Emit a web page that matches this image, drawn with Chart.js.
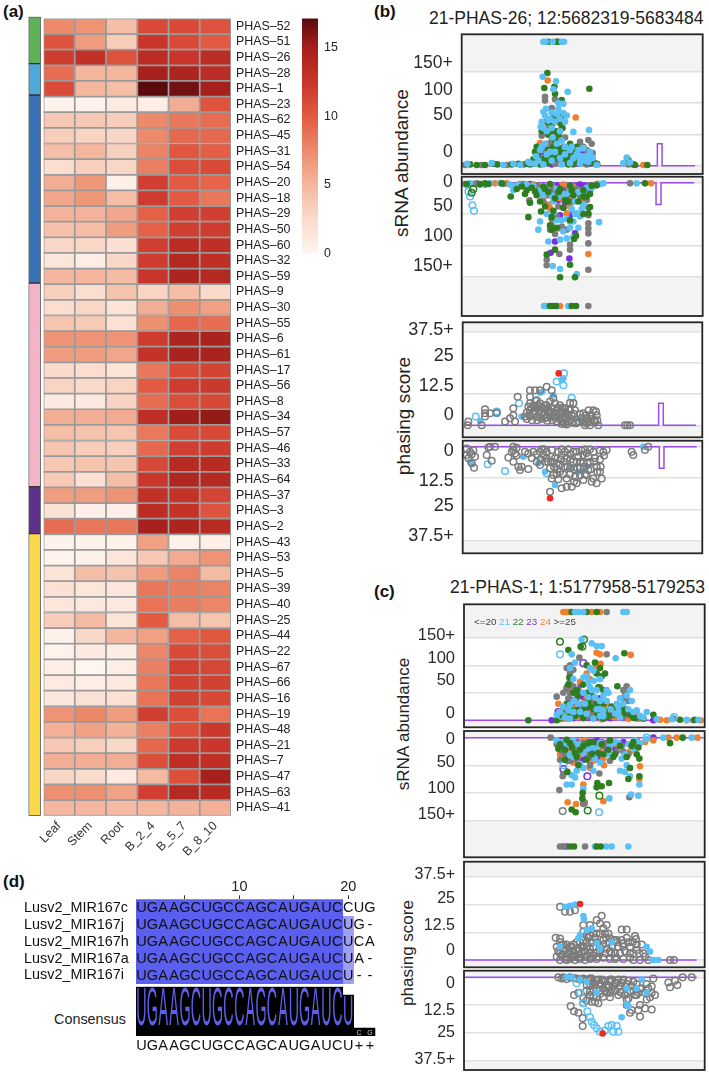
<!DOCTYPE html>
<html>
<head>
<meta charset="utf-8">
<title>PHAS figure</title>
<script src="https://cdn.jsdelivr.net/npm/chart.js@4/dist/chart.umd.min.js"></script>
<style>
  html, body { margin: 0; padding: 0; background: #fff; }
  body { position: relative; width: 709px; height: 1075px; overflow: hidden; font-family: 'Liberation Sans', Arial, sans-serif; color: #222; }
  canvas { position: absolute; filter: blur(0.35px); }
  .t { position: absolute; white-space: nowrap; line-height: 1; }
  .panel-tag { font-weight: bold; font-size: 17px; color: #111; }
  .rot { transform: translate(-50%, -50%) rotate(-90deg); }
</style>
</head>
<body>
<div class="t panel-tag" style="left:3px;top:3px">(a)</div>
<div class="t panel-tag" style="left:374px;top:3px">(b)</div>
<div class="t panel-tag" style="left:374px;top:583px">(c)</div>
<div class="t panel-tag" style="left:3px;top:873px">(d)</div>
<div class="t" style="left:429px;top:10px;font-size:17.5px">21-PHAS-26; 12:5682319-5683484</div>
<div class="t" style="left:450px;top:579px;font-size:17.5px">21-PHAS-1; 1:5177958-5179253</div>
<div class="t rot" style="left:401px;top:163px;font-size:19px">sRNA abundance</div>
<div class="t rot" style="left:403px;top:416px;font-size:19px">phasing score</div>
<div class="t rot" style="left:403px;top:724px;font-size:17px">sRNA abundance</div>
<div class="t rot" style="left:407px;top:953px;font-size:17px">phasing score</div>
<div class="t" style="left:54px;top:1012px;font-size:14.4px">Consensus</div>
<div class="t" style="left:474px;top:617px;font-size:9.8px;z-index:5;color:#444">&lt;=20 <span style="color:#5bc0f5">21</span> <span style="color:#2e7d32">22</span> <span style="color:#7b3fc4">23</span> <span style="color:#f07f3e">24</span> &gt;=25</div>
<script>
// ---------- (a) heatmap ----------
const heatRows = ['PHAS–52','PHAS–51','PHAS–26','PHAS–28','PHAS–1','PHAS–23','PHAS–62','PHAS–45','PHAS–31','PHAS–54','PHAS–20','PHAS–18','PHAS–29','PHAS–50','PHAS–60','PHAS–32','PHAS–59','PHAS–9','PHAS–30','PHAS–55','PHAS–6','PHAS–61','PHAS–17','PHAS–56','PHAS–8','PHAS–34','PHAS–57','PHAS–46','PHAS–33','PHAS–64','PHAS–37','PHAS–3','PHAS–2','PHAS–43','PHAS–53','PHAS–5','PHAS–39','PHAS–40','PHAS–25','PHAS–44','PHAS–22','PHAS–67','PHAS–66','PHAS–16','PHAS–19','PHAS–48','PHAS–21','PHAS–7','PHAS–47','PHAS–63','PHAS–41'];
const heatCols = ['Leaf','Stem','Root','B_2_4','B_5_7','B_8_10'];
const heatValues = [
 [7.5,7,4.5,11,11,10.5],[10.5,6.5,3.5,12.5,11,10],[12,13,10.5,13.5,12.5,13.5],[9,5,5,15,14.5,13.5],[11,5,4.5,17.3,16.5,15],
 [0.4,0.3,1,0.8,5.5,10.5],[3.8,3.8,3.5,7.5,8.5,9],[3.5,3,2.8,7.5,9.2,9.2],[4.5,5,3.2,7.8,10.3,9.8],[2.2,3.3,2.8,8,10.8,11],
 [5.5,6.8,0.6,11.8,10,9.5],[6,6.8,4.5,12,10,8.5],[5.2,5.2,6,9.7,11.8,11.8],[4.3,4.6,6.5,9.7,11.8,12],[2.8,2.8,2,11.8,13.5,13.2],
 [1.6,0.8,2.8,12,14,13.2],[5,5,4.7,12.5,14.5,14],[3.2,2.2,4.2,3,4.5,2.6],[2.2,2.8,1.8,5.5,7.2,6.3],[4,3.7,2,7.2,9.3,9],
 [7,7,7,12,14.5,14.7],[6.5,6.5,6,12.8,14.7,14.7],[2.5,2.2,1.7,8.5,11,11.5],[3,2.5,3,10,12,12.3],[1,1.2,3,9,10.8,11.2],
 [5.5,5.5,5.7,13.2,15.2,15.5],[4.5,4.2,4,8.5,11,11.2],[4,3.5,3.3,9.2,11.8,12],[3.8,4.2,4,11.3,13.7,13.8],[3.7,2,4.5,12.4,14.3,14],
 [6.5,6.5,7,13,12.8,11.5],[1.8,0.6,0.6,13.5,12.8,10.5],[9,8.5,8.5,15,14.5,13.7],[0.3,0.4,0.4,6.3,0.4,0.6],[0.3,0.5,1.5,3.8,5.7,7],
 [1.7,4.5,4.2,6.5,7.8,4.8],[2,1.6,1.4,8.5,8.2,7.8],[1.5,1.3,1.2,8.7,8.2,7.7],[3.5,4.8,1.7,10,4.6,4],[0.5,2.7,5,6.3,9.7,10.2],
 [0.4,1.2,0.8,7.7,11,10.8],[0.7,0.1,0.8,8,11.7,11.3],[1,0.7,1.2,8.5,11.6,11.6],[1.4,1.9,2,8.7,11.7,11.2],[7,7.6,6.5,11.8,10.7,8.7],
 [5.4,6.2,5.3,8,10.7,12.3],[3.8,3.3,2.7,9.3,12.2,12.4],[5.5,5.5,5.5,10.8,13.2,13.2],[2.8,2.4,1.2,4.8,10.7,15],[7.2,7.2,6.2,11.8,14,13.8],
 [5,5,4.8,5,5.2,5.4]
];
const groupSizes = [3, 2, 12, 13, 3, 18];
const groupColors = ['#5fb158', '#4ea8dc', '#3a72b8', '#f3b4c8', '#5e318c', '#f9d94a'];
const barTicks = [0, 5, 10, 15];
const barMax = 17.16;
const colorStops = [[0,'#fff6f1'],[2.5,'#fadbcb'],[5,'#f4b79e'],[7.5,'#ec8a6b'],[10,'#e35a42'],[12.5,'#c9352a'],[15,'#a6211c'],[17.16,'#5a0a0c']];

// ---------- (b) 21-PHAS-26 ----------
const b1Grey = [[285,1],[335,1],[410,1],[462,2],[500,8],[515,10],[530,6],[545,12],[560,8],[575,6],[595,5],[620,5],[640,8],[660,4],[675,3],[682,2],[525,110],[525,104],[555,106],[545,92],[565,80],[578,60],[520,52],[560,49],[515,48],[630,38],[655,41],[665,35],[580,30],[640,30],[600,15],[610,10],[520,25],[540,28],[575,22],[590,12],[775,2],[772,8],[505,4],[555,3],[610,2],[650,2],[530,35],[545,40],[570,45],[585,45],[600,25],[620,10],[635,15],[650,25],[668,20],[505,20],[530,60]];
const b1Blue = [[292,3],[365,4],[400,1],[430,3],[450,1],[475,6],[518,142],[558,135],[550,122],[593,118],[580,99],[565,91],[528,91],[520,86],[580,84],[545,85],[560,82],[515,70],[520,60],[512,62],[610,54],[657,57],[570,75],[590,80],[535,72],[605,30],[640,28],[660,22],[650,15],[630,10],[668,12],[655,6],[600,25],[585,18],[530,18],[555,22],[498,15],[510,25],[620,18],[570,12],[545,8],[495,3],[520,2],[575,2],[630,3],[680,1],[760,4],[770,13],[780,5],[520,198],[527,198],[548,198],[575,198],[582,198],[505,8],[525,35],[540,22],[560,35],[575,40],[585,30],[610,12],[625,25],[645,8],[662,15],[515,30],[530,55],[545,60],[555,70],[570,55],[525,80],[540,75],[565,100],[585,70],[635,15],[480,4],[600,4],[548,45]];
const b1Green = [[300,2],[320,1],[345,1],[370,3],[382,2],[425,2],[445,3],[470,3],[490,3],[510,2],[532,148],[523,124],[553,126],[658,123],[555,115],[575,105],[578,80],[562,72],[545,64],[530,70],[550,55],[570,68],[555,40],[525,12],[500,30],[495,22],[540,15],[565,28],[585,10],[600,35],[612,22],[625,8],[640,14],[655,4],[672,5],[535,4],[595,2],[795,1],[832,1],[775,9],[790,2],[610,3],[535,198],[558,198],[565,198],[490,10],[505,18],[520,8],[535,25],[550,30],[560,12],[570,20],[585,25],[595,15],[610,8],[620,30],[635,5],[650,10],[665,8],[680,3],[515,55],[535,50],[560,55],[575,60],[565,50],[550,80],[480,2]];
const b1Orange = [[533,136],[617,77],[535,49],[510,36],[540,32],[580,16],[550,18],[515,8],[605,10],[640,4],[820,1],[525,25],[555,30],[570,8],[590,5],[615,15],[650,8],[500,12],[535,12],[600,20]];
const b1Purple = [[540,57],[525,20],[560,14],[575,5],[620,3],[635,20],[600,8],[545,2],[510,5],[535,8],[555,12],[585,8],[610,5],[640,8],[660,3],[595,15],[570,25],[530,30]];
const b1Line = [[285,0],[862,0],[862,35],[876,35],[876,0],[975,0]];

const b2Grey = [[285,2],[310,2],[330,3],[400,2],[450,2],[500,4],[540,8],[600,4],[660,4],[478,28],[560,54],[545,68],[540,75],[555,82],[655,52],[655,65],[655,73],[655,81],[655,97],[655,139],[600,99],[600,107],[568,114],[530,123],[530,132],[580,40],[630,22],[590,25],[520,30],[780,1],[660,12],[620,10],[655,197],[295,3],[320,1],[345,3],[460,2],[475,6],[510,8],[535,20],[550,12],[565,38],[575,15],[595,10],[610,30],[640,12],[650,28],[670,5],[685,2],[545,58],[575,70],[590,75],[655,40]];
const b2Blue = [[300,1],[340,2],[420,3],[430,12],[445,3],[510,62],[505,75],[687,63],[535,94],[620,146],[570,138],[548,133],[570,91],[590,89],[610,87],[630,54],[620,49],[610,62],[600,72],[625,72],[615,30],[605,42],[530,50],[520,20],[550,30],[575,60],[640,35],[665,8],[690,2],[700,1],[800,1],[560,10],[600,15],[580,78],[522,197],[530,197],[560,197],[595,197],[290,4],[360,1],[390,1],[430,6],[470,3],[490,5],[510,12],[530,8],[545,20],[565,22],[585,18],[600,8],[625,15],[650,8],[675,5],[610,20],[635,42],[645,18],[590,58],[600,62],[615,50],[560,60],[550,48]];
const b2BlueOpen = [[295,14],[300,22],[307,36],[312,45]];
const b2GreenOpen = [[305,16],[310,10]];
const b2Green = [[290,2],[355,2],[470,12],[440,10],[422,22],[475,55],[513,46],[570,151],[615,151],[600,131],[612,90],[618,85],[530,115],[555,107],[660,39],[655,49],[545,75],[540,68],[580,40],[480,32],[500,20],[525,10],[555,25],[565,15],[595,30],[610,20],[640,12],[650,22],[680,4],[825,1],[600,5],[540,2],[540,197],[548,197],[558,197],[605,197],[618,197],[330,2],[345,1],[395,1],[455,6],[465,18],[485,8],[495,14],[510,30],[520,6],[535,15],[550,45],[570,10],[585,28],[605,12],[625,30],[640,22],[660,18],[665,5],[525,38],[545,55],[600,60],[640,50],[560,72]];
const b2Orange = [[375,1],[410,1],[655,114],[568,73],[590,49],[540,41],[520,22],[640,28],[560,12],[610,6],[843,1],[500,4],[580,3],[570,197],[460,3],[490,3],[515,12],[530,20],[550,8],[570,25],[600,28],[625,12],[650,8],[535,35],[600,38],[680,2]];
const b2Purple = [[570,52],[600,52],[598,121],[542,112],[555,94],[615,81],[565,28],[530,8],[590,12],[630,3],[480,2],[505,10],[540,15],[560,5],[575,8],[605,18],[620,5],[645,5],[550,22],[585,32]];
const b2Line = [[285,0],[858,0],[858,35],[873,35],[873,0],[972,0]];

const b3GreyOpen = [[295,1.5],[293,0],[335,0],[345,6.4],[345,4.8],[345,3.5],[360,4.8],[380,5],[405,1.5],[420,2.8],[430,6.8],[430,4],[435,1.5],[443,11.4],[465,3.5],[480,14],[495,14],[510,14],[480,11.4],[480,8.8],[480,6],[490,4.8],[500,6.8],[510,8.8],[520,6.8],[530,8],[530,15.4],[545,14],[550,10.8],[555,8.8],[540,5.5],[550,4],[560,6],[570,8],[575,4.8],[585,6.8],[595,4],[560,3.5],[520,4],[500,3.5],[480,3.5],[575,1.5],[585,0.8],[610,8.8],[615,6],[605,4],[640,4.8],[650,2.8],[660,4],[670,6],[680,4],[640,1.5],[645,0],[660,0],[675,1.5],[685,0],[765,0],[780,0],[772,0],[490,8],[500,10],[515,5],[525,3],[535,6],[545,7],[560,1.5],[570,2.5],[590,2.5],[600,6],[655,1.5],[665,2.5],[530,3],[510,3],[470,5],[475,7.5],[540,9.5],[600,9],[580,1],[470,2.5],[478,4],[486,2],[494,5.5],[502,2],[508,6],[516,2.5],[524,5.5],[532,1.8],[540,3.5],[548,2],[556,5],[564,7],[572,6],[580,3.5],[588,5],[596,6.5],[604,2.5],[612,4.5],[484,7],[494,7.5],[504,8],[514,7],[524,8],[534,7],[544,5],[554,3],[566,4.5],[576,7],[586,3.5],[596,1.5],[606,1],[618,0.8],[628,1.5],[636,3],[648,4],[656,6],[664,3.5],[672,2],[682,2],[678,5.5],[630,4.5],[650,0.8],[575,0.5],[590,0.3]];
const b3BlueOpen = [[317,3.5],[447,8.8],[380,5.5],[380,4.8],[582,20.7],[580,16],[605,11],[610,9],[497,9.7],[560,17.5]];
const b3Blue = [[330,1.7],[517,13.4],[550,12],[580,18.7],[575,18],[620,2.8],[455,3.5],[640,0.8],[510,13]];
const b3Red = [[566,20.7]];
const b3Line = [[285,0],[866,0],[866,8.8],[880,8.8],[880,0],[978,0]];

const b4GreyOpen = [[290,0.7],[290,3.3],[295,4.6],[310,1.3],[315,4],[305,6.6],[312,8.4],[350,3.3],[355,0.3],[375,0],[360,0],[365,5.6],[415,4.3],[430,0],[430,1.3],[440,0.4],[425,2],[435,2.7],[430,6],[465,2],[475,2.7],[455,8],[450,9.3],[475,8.9],[510,2],[520,3.3],[500,6],[510,7.3],[530,4.6],[545,1.3],[555,4.6],[540,8.6],[550,11.3],[560,6.6],[575,3.3],[590,4.6],[600,8.6],[590,12.7],[575,16.6],[590,16],[605,16],[620,14.6],[640,13.3],[650,11.3],[670,12.7],[680,14.6],[695,12.7],[690,10],[660,6],[670,2],[700,2],[710,1.3],[640,3.3],[620,6],[610,2],[630,8.6],[655,9.3],[540,18],[790,3.3],[785,2],[825,1.3],[835,0],[545,12.7],[530,2],[565,2],[585,2],[600,3],[620,2],[635,1.5],[650,2.5],[570,7],[585,8],[610,6],[625,4],[640,6.5],[655,4],[680,8],[675,4.5],[690,5],[500,3],[512,5],[522,1],[534,6],[544,4],[552,8],[562,9],[572,5],[582,6],[592,8],[602,5],[612,9],[622,8.5],[632,6],[642,8],[652,6.5],[662,9],[672,6],[682,10],[692,8],[702,3.5],[690,1.5],[660,1],[645,1],[595,1],[575,1],[600,11],[615,12],[630,11.5],[645,11],[665,14],[612,14],[565,13],[560,11],[570,10],[580,11],[548,6],[525,6],[515,1],[490,2],[485,4.5],[440,3.5],[445,8],[300,2],[305,3]];
const b4BlueOpen = [[353,7],[405,9.7],[530,10.6]];
const b4Blue = [[300,6],[305,6.6],[460,4],[505,6.6],[525,10],[555,15.3],[605,8.6],[625,10],[820,0],[650,8]];
const b4Red = [[540,20.6]];
const b4Line = [[285,0],[868,0],[868,8.6],[882,8.6],[882,0],[980,0]];

// ---------- (c) 21-PHAS-1 ----------
const c1Grey = [[560,43],[600,100],[590,95],[610,92],[628,114],[600,85],[590,60],[600,50],[620,40],[605,30],[585,22],[710,120],[765,50],[760,40],[775,35],[640,20],[680,15],[720,8],[760,6],[800,4],[910,3],[970,0],[700,3],[650,6],[600,8],[565,3],[690,60],[710,197],[575,10],[595,40],[610,62],[625,55],[600,72],[580,50],[640,8],[660,10],[672,30],[700,10],[735,22],[775,12],[600,20],[650,35],[755,18],[770,62],[760,55]];
const c1Blue = [[635,147],[665,140],[680,135],[695,135],[605,120],[737,113],[660,95],[670,90],[655,70],[660,60],[680,55],[710,55],[700,45],[715,50],[675,42],[690,35],[690,20],[740,30],[750,40],[745,25],[780,55],[770,45],[775,20],[790,15],[800,18],[830,15],[610,75],[640,50],[625,30],[580,25],[560,10],[610,15],[650,12],[700,8],[750,5],[820,5],[860,2],[905,2],[950,1],[985,1],[600,3],[670,3],[615,197],[625,197],[640,197],[760,197],[770,197],[570,15],[585,5],[595,18],[600,28],[612,35],[630,15],[645,30],[655,42],[665,55],[672,72],[680,20],[690,8],[700,18],[710,35],[722,20],[735,12],[745,15],[760,30],[785,35],[810,8],[650,80],[640,78],[690,75],[600,95],[615,105]];
const c1BlueOpen = [[570,120],[912,6],[575,8]];
const c1Green = [[475,0],[595,128],[632,134],[763,122],[650,100],[675,105],[690,95],[705,85],[695,80],[742,62],[595,65],[610,50],[640,65],[665,45],[685,60],[660,25],[620,18],[570,5],[600,12],[700,30],[730,10],[760,12],[790,5],[850,10],[820,3],[930,1],[975,1],[560,0],[640,4],[680,8],[605,197],[650,197],[680,197],[565,12],[580,5],[590,30],[600,22],[615,8],[625,45],[630,12],[645,20],[655,35],[670,20],[680,30],[690,12],[705,18],[715,8],[725,25],[740,15],[755,25],[765,20],[780,10],[795,4],[620,55],[598,78],[650,50],[700,55],[680,85]];
const c1GreenOpen = [[570,143],[642,147],[637,134],[590,10],[700,5]];
const c1Orange = [[680,123],[690,120],[782,119],[692,103],[630,70],[650,85],[605,55],[660,40],[665,15],[565,30],[710,30],[730,6],[805,3],[870,1],[890,0],[950,0],[992,0],[620,6],[585,10],[700,15],[580,197],[590,197],[597,197],[665,197],[690,197],[570,2],[590,3],[605,15],[615,28],[635,5],[650,40],[670,8],[685,25],[695,2],[715,15],[740,5],[760,18],[775,3],[800,10],[660,75],[675,95],[640,30]];
const c1Purple = [[545,0],[600,38],[632,65],[580,18],[690,40],[650,20],[720,4],[850,0],[770,8],[575,3],[610,4],[655,5],[700,12],[620,22],[665,32],[590,58],[640,42],[680,5]];
const c1PurpleOpen = [[640,104],[630,20],[565,15]];
const c1Line = [[285,0],[1000,0]];

const c2Grey = [[542,0],[568,95],[578,70],[580,66],[560,12],[575,25],[610,20],[640,10],[688,65],[778,108],[655,30],[700,15],[760,25],[800,5],[620,40],[640,120],[660,50],[570,197],[580,197],[645,197],[570,40],[585,30],[605,10],[625,28],[645,20],[675,15],[695,8],[715,8],[740,25],[755,15],[775,30],[795,12],[600,42],[660,35],[720,42]];
const c2GreyOpen = [[578,133],[642,118]];
const c2Blue = [[590,85],[605,85],[615,72],[620,60],[640,55],[690,45],[670,60],[640,92],[718,110],[783,103],[805,105],[808,85],[780,70],[770,50],[750,60],[765,30],[790,20],[610,5],[650,20],[680,20],[720,30],[745,10],[830,3],[965,0],[880,0],[560,5],[675,197],[708,197],[725,197],[775,197],[575,8],[590,12],[600,30],[610,35],[625,12],[640,28],[655,12],[665,18],[675,38],[690,10],[705,30],[720,15],[735,8],[755,38],[775,12],[795,5],[810,10],[630,48],[605,68],[765,62]];
const c2BlueOpen = [[687,135],[580,50],[830,0]];
const c2Green = [[592,62],[605,130],[617,135],[637,110],[638,100],[682,82],[680,90],[695,88],[717,82],[808,38],[780,55],[775,75],[808,70],[620,35],[565,20],[585,40],[640,15],[665,30],[700,30],[730,35],[785,15],[800,30],[900,10],[938,0],[600,10],[660,8],[600,197],[612,197],[680,197],[692,197],[570,12],[585,22],[605,18],[615,28],[630,22],[650,40],[670,8],[685,28],[695,12],[715,22],[735,30],[750,15],[770,35],[790,8],[805,18],[625,50],[655,10],[590,4],[720,5]];
const c2GreenOpen = [[653,132],[688,105]];
const c2Orange = [[593,117],[618,120],[640,85],[642,118],[700,115],[702,50],[660,55],[570,30],[590,25],[630,30],[810,52],[808,75],[895,0],[920,0],[982,0],[850,5],[720,10],[580,8],[645,5],[580,197],[565,8],[600,12],[620,18],[635,8],[650,18],[670,42],[690,20],[700,38],[715,30],[740,12],[780,25],[800,12],[640,55],[610,45],[825,8]];
const c2Purple = [[592,42],[650,30],[685,40],[620,8],[710,20],[850,0],[680,5],[570,5],[590,197],[575,18],[610,28],[635,15],[670,25],[700,10],[735,20],[760,8],[640,40],[690,32]];
const c2PurpleOpen = [[580,57],[652,70],[655,35]];
const c2Line = [[285,0],[1000,0]];

const c3GreyOpen = [[570,24],[585,21.8],[600,21.8],[615,22.5],[557,10],[570,9.7],[575,6.8],[695,20],[680,18],[710,15.8],[700,14.3],[690,16.5],[660,15.8],[640,15.8],[640,12.8],[755,13.8],[770,13.8],[795,10.8],[720,9.8],[740,9],[760,7.5],[780,6],[800,4.5],[820,3],[810,0],[835,0],[900,0],[912,0],[560,1.5],[565,4],[575,2],[590,5],[600,3],[605,6],[615,1.5],[625,4],[635,6],[640,9],[650,2],[660,5],[665,8],[675,10],[680,3],[690,6],[700,9],[710,5],[725,6],[735,3],[745,6],[755,9],[765,4],[775,8],[790,3],[800,7],[570,0],[585,0.5],[600,0.5],[615,0],[630,0.5],[645,0],[660,0.5],[680,0.5],[700,1],[720,0.5],[740,1],[790,0],[590,1.5],[610,4],[645,4],[670,2],[655,10],[625,1],[560,6],[570,3],[580,4],[595,3],[610,2],[625,5],[635,3],[650,6],[660,3],[670,6],[680,8],[690,4],[700,7],[708,10],[716,8],[724,3],[732,9],[742,8],[750,3],[760,6],[770,10],[780,3],[788,8],[798,9.5],[808,3],[815,7],[825,1.5],[570,8],[580,7],[590,7],[600,6],[610,7],[620,8],[630,8],[640,6],[650,8],[660,11],[670,12],[680,12],[690,12],[705,12],[715,12],[650,11],[720,4],[735,0.5],[760,0.5],[780,1],[590,0],[605,1.5],[625,2.5],[645,1.5],[665,1],[685,1.5],[705,3]];
const c3Blue = [[585,24],[600,24.5],[615,25],[640,19.9],[642,18.4],[650,13.5],[665,14.3],[630,11.3],[625,9.8],[680,7.5],[690,5.3],[830,6],[840,3.8],[850,0],[865,0],[570,6],[725,8]];
const c3Red = [[630,25.3]];
const c3Line = [[285,0],[980,0]];

const c4GreyOpen = [[602,13],[612,15.3],[625,16],[638,18.4],[638,22],[612,8],[625,7],[640,9.5],[640,11.7],[660,6.5],[670,8.7],[685,11.7],[665,11],[700,8.7],[720,7],[750,6.5],[775,9.5],[770,12.5],[810,12.5],[805,14.8],[810,17.7],[780,16],[785,14.8],[825,14],[845,14.5],[855,8],[845,4],[850,0.5],[895,2.3],[900,4.5],[915,1.5],[922,3.5],[938,0],[965,0],[565,0],[580,0],[600,0],[620,0.5],[640,0.5],[660,0.5],[670,2],[680,1.5],[690,3],[700,1.5],[710,3.5],[720,2],[730,4],[740,2.5],[750,4],[760,1],[770,3],[785,4],[790,6],[800,3],[810,5],[830,3],[845,7],[690,6],[705,6],[660,3],[720,1],[680,5],[735,6],[800,8],[640,1],[650,3.5],[655,1],[665,0.5],[675,3.5],[685,1],[695,1],[705,2],[715,4.5],[725,1],[735,2.5],[745,1],[755,2.5],[765,4],[775,1.5],[780,6],[790,2],[795,8],[805,7],[815,5],[825,7],[835,5],[840,9],[830,10],[700,5],[690,7.5],[680,9],[670,5.5],[660,8],[650,6],[710,7],[725,5.5],[755,7],[765,8],[770,10],[720,9],[660,1.5],[590,0.8],[610,0.3],[630,1],[575,0.5],[650,10.5],[675,11],[745,8]];
const c4Blue = [[590,0],[605,0],[755,18],[770,12],[775,13],[815,1],[830,7],[800,5],[770,5],[650,2],[630,1],[680,7]];
const c4BlueOpen = [[620,2.7],[630,7],[640,11.7],[652,15.3],[665,20],[680,23],[690,24.5],[715,22],[725,21.5],[740,22],[745,24.5],[705,24],[730,24.5],[672,21.5],[660,18]];
const c4Red = [[698,25.3]];
const c4Line = [[285,0],[980,0]];

// ---------- (d) alignment ----------
const seqNames = ['Lusv2_MIR167c','Lusv2_MIR167j','Lusv2_MIR167h','Lusv2_MIR167a','Lusv2_MIR167i'];
const seqLetters = ['UGAAGCUGCCAGCAUGAUCCUG','UGAAGCUGCCAGCAUGAUCUG-','UGAAGCUGCCAGCAUGAUCUCA','UGAAGCUGCCAGCAUGAUCUA-','UGAAGCUGCCAGCAUGAUCU--'];
const identicalEnd = [19, 19, 19, 19, 19];
const partialEnd = [null, 20, 20, 20, 20];
const rulerTicks = [5, 10, 15, 20];
const consensusLetters = 'UGAAGCUGCCAGCAUGAUCU++'.split('');
const logoLetters = 'UGAAGCUGCCAGCAUGAUCUCG'.split('');
const logoHeights = [100,100,100,100,100,100,100,100,100,100,100,100,100,100,100,100,100,100,100,83,16,16];

const abundanceGrid = [0, 50, 100, 150];
const abundanceLabels = ['0', '50', '100', '150+'];
const phasingGrid = [0, 12.5, 25, 37.5];
const phasingLabels = ['0', '12.5', '25', '37.5+'];

const BLUE = '#5bc0f5', GREEN = '#2e7d1e', GREY = '#7c7c7c', ORANGE = '#f07f2e', PURPLE = '#7b2fe0', RED = '#ee2a1e', LINE = '#9b4deb';
const FONT = "'Liberation Sans', Arial, sans-serif";
Chart.defaults.font.family = FONT;
Chart.defaults.color = '#222';
Chart.defaults.animation = false;
Chart.defaults.plugins.legend.display = false;
Chart.defaults.plugins.tooltip.enabled = false;

function addCanvas(l, t, w, h) {
	const c = document.createElement('canvas');
	c.width = w; c.height = h;
	c.style.left = l + 'px'; c.style.top = t + 'px';
	c.style.width = w + 'px'; c.style.height = h + 'px';
	document.body.appendChild(c);
	return c.getContext('2d');
}

function heatColor(v) {
	for (let i = 1; i < colorStops.length; i++) {
		if (v <= colorStops[i][0]) {
			const a = colorStops[i - 1], b = colorStops[i];
			const t = (v - a[0]) / (b[0] - a[0]);
			const rgb = k => Math.round(parseInt(a[1].substr(k, 2), 16) * (1 - t) + parseInt(b[1].substr(k, 2), 16) * t);
			return 'rgb(' + rgb(1) + ',' + rgb(3) + ',' + rgb(5) + ')';
		}
	}
	return colorStops[colorStops.length - 1][1];
}

// heatmap, cell area 43.5-231 x 16.7-815.7
new Chart(addCanvas(0, 6, 325, 866), {
	type: 'bar',
	data: {
		labels: heatRows,
		datasets: heatCols.map((name, c) => ({
			label: name,
			data: heatValues.map(() => [c, c + 1]),
			backgroundColor: heatValues.map(r => heatColor(r[c])),
			borderColor: '#9a9a9a',
			borderWidth: 1.2,
			borderSkipped: false,
			grouped: false,
			barPercentage: 1,
			categoryPercentage: 1
		}))
	},
	options: {
		indexAxis: 'y',
		responsive: false,
		layout: { autoPadding: false, padding: { left: 43.5, top: 10.7 } },
		scales: {
			x: {
				min: 0, max: 6, position: 'bottom',
				grid: { display: false, drawTicks: false }, border: { display: false },
				afterBuildTicks: s => { s.ticks = heatCols.map((n, i) => ({ value: i + 0.5 })); },
				afterFit: s => { s.height = 872 - 6 - 809.7; },
				ticks: { minRotation: 45, maxRotation: 45, autoSkip: false, padding: 3, font: { size: 12.4 }, color: '#333', callback: (v, i) => heatCols[i] }
			},
			y: {
				position: 'right',
				grid: { display: false, drawTicks: false }, border: { display: false },
				afterFit: s => { s.width = 94; },
				ticks: { autoSkip: false, padding: 5, font: { size: 12.4 }, color: '#222' }
			}
		}
	}
});

// group annotation strip beside the heatmap
new Chart(addCanvas(20, 6, 30, 820), {
	type: 'bar',
	data: {
		labels: ['group'],
		datasets: groupSizes.map((n, i) => ({
			data: [n],
			backgroundColor: groupColors[i],
			borderColor: '#333',
			borderWidth: 1,
			borderSkipped: false,
			barPercentage: 1,
			categoryPercentage: 1,
			stack: 's'
		}))
	},
	options: {
		responsive: false,
		layout: { autoPadding: false, padding: { left: 8.5, right: 9.3, top: 10.7, bottom: 10.3 } },
		scales: {
			x: { display: false, stacked: true },
			y: { display: false, stacked: true, reverse: true, min: 0, max: heatRows.length }
		}
	}
});

// colour key
new Chart(addCanvas(296, 5, 60, 262), {
	type: 'bar',
	data: {
		labels: ['key'],
		datasets: [{
			data: [barMax],
			barPercentage: 1,
			categoryPercentage: 1,
			backgroundColor: ctx => {
				const a = ctx.chart.chartArea;
				if (!a) return '#fff';
				const g = ctx.chart.ctx.createLinearGradient(0, a.bottom, 0, a.top);
				colorStops.forEach(s => g.addColorStop(s[0] / barMax, s[1]));
				return g;
			}
		}]
	},
	options: {
		responsive: false,
		layout: { autoPadding: false, padding: { left: 6, top: 12, bottom: 10 } },
		scales: {
			x: { display: false },
			y: {
				position: 'right', min: 0, max: barMax,
				grid: { display: false, drawTicks: false }, border: { display: false },
				afterBuildTicks: s => { s.ticks = barTicks.map(v => ({ value: v })); },
				afterFit: s => { s.width = 38; },
				ticks: { padding: 6, font: { size: 12.4 } }
			}
		}
	}
});

// shaded out-of-range bands and dark frame
const panelFrame = {
	id: 'panelFrame',
	beforeDraw(chart, args, o) {
		const a = chart.chartArea, c = chart.ctx, y = chart.scales.y;
		const limit = y.getPixelForValue(o.limit), zero = y.getPixelForValue(0);
		c.save();
		c.fillStyle = '#f3f3f3';
		if (limit < zero) {
			c.fillRect(a.left, a.top, a.width, limit - a.top);
			c.fillRect(a.left, zero, a.width, a.bottom - zero);
		} else {
			c.fillRect(a.left, limit, a.width, a.bottom - limit);
			c.fillRect(a.left, a.top, a.width, zero - a.top);
		}
		c.restore();
	},
	afterDraw(chart) {
		const a = chart.chartArea, c = chart.ctx;
		c.save();
		c.strokeStyle = '#262626';
		c.lineWidth = 1.8;
		c.strokeRect(a.left, a.top, a.width, a.height);
		c.restore();
	}
};

function dots(list, color, open) {
	return {
		data: list.map(p => ({ x: p[0], y: p[1] })),
		pointRadius: 3.3,
		pointBorderWidth: open ? 1.5 : 0,
		pointBackgroundColor: open ? 'rgba(255,255,255,0)' : color,
		pointBorderColor: color,
		showLine: false
	};
}

function panel(g, series, lineData, gridVals, labelPos, labelText, fontSize) {
	const cl = 370, ct = Math.floor(g.top) - 12, cw = Math.ceil(g.right) + 3 - cl, ch = Math.ceil(g.bottom) + 12 - ct;
	// first dataset paints last, so flip the list to keep the first series underneath
	const datasets = [{
		data: lineData.map(p => ({ x: p[0], y: p[1] })),
		showLine: true, pointRadius: 0, borderColor: LINE, borderWidth: 1.5, order: 99
	}].concat(series.slice().reverse());
	new Chart(addCanvas(cl, ct, cw, ch), {
		type: 'scatter',
		data: { datasets: datasets },
		options: {
			responsive: false,
			layout: { autoPadding: false, padding: { top: g.top - ct, bottom: ct + ch - g.bottom, right: cl + cw - g.right, left: 0 } },
			plugins: { panelFrame: { limit: gridVals[3] } },
			scales: {
				x: { display: false, type: 'linear', min: g.xMin, max: g.xMax },
				y: {
					min: g.yMin, max: g.yMax, reverse: !!g.reverse,
					border: { display: false },
					grid: { color: '#e0e0e0', lineWidth: 1.4, drawTicks: false },
					ticks: { display: false },
					afterBuildTicks: s => { s.ticks = gridVals.map(v => ({ value: v })); },
					afterFit: s => { s.width = 0; s.paddingTop = 0; s.paddingBottom = 0; }
				},
				yl: {
					position: 'left',
					min: g.yMin, max: g.yMax, reverse: !!g.reverse,
					border: { display: false },
					grid: { display: false, drawTicks: false },
					afterBuildTicks: s => { s.ticks = labelPos.map(v => ({ value: v })); },
					afterFit: s => { s.width = g.left - cl; s.paddingTop = 0; s.paddingBottom = 0; },
					ticks: { autoSkip: false, padding: 9, font: { size: fontSize }, color: '#2a2a2a', callback: (v, i) => labelText[i] }
				}
			}
		},
		plugins: [panelFrame]
	});
}

// panel (b)
panel({ left: 461.7, right: 702.7, top: 34.3, bottom: 174, xMin: 275, xMax: 998, yMin: -13.3, yMax: 209.9 },
	[dots(b1Purple, PURPLE), dots(b1Orange, ORANGE), dots(b1Grey, GREY), dots(b1Green, GREEN), dots(b1Blue, BLUE)],
	b1Line, abundanceGrid, [21.4, 81, 121, 163.6], abundanceLabels, 17.5);
panel({ left: 461.7, right: 702.7, top: 176.7, bottom: 316, xMin: 275, xMax: 998, yMin: -9.6, yMax: 213, reverse: true },
	[dots(b2Purple, PURPLE), dots(b2Orange, ORANGE), dots(b2Grey, GREY), dots(b2BlueOpen, BLUE, true), dots(b2Blue, BLUE), dots(b2GreenOpen, GREEN, true), dots(b2Green, GREEN)],
	b2Line, abundanceGrid, [-1.6, 38, 86, 132.6], abundanceLabels, 17.5);
panel({ left: 462.7, right: 702.3, top: 322.3, bottom: 437.3, xMin: 278, xMax: 997, yMin: -4.8, yMax: 41.1 },
	[dots(b3BlueOpen, BLUE, true), dots(b3Blue, BLUE), dots(b3GreyOpen, GREY, true), dots(b3Red, RED)],
	b3Line, phasingGrid, [4.1, 15.7, 27.8, 38], phasingLabels, 18);
panel({ left: 462.7, right: 702.3, top: 440.7, bottom: 553.3, xMin: 278, xMax: 997, yMin: -2.4, yMax: 42.6, reverse: true },
	[dots(b4BlueOpen, BLUE, true), dots(b4Blue, BLUE), dots(b4GreyOpen, GREY, true), dots(b4Red, RED)],
	b4Line, phasingGrid, [1.7, 13.6, 23.6, 35.7], phasingLabels, 18);

// panel (c)
panel({ left: 464, right: 704.7, top: 604.3, bottom: 727.3, xMin: 282, xMax: 1004, yMin: -12.7, yMax: 211 },
	[dots(c1PurpleOpen, PURPLE, true), dots(c1Purple, PURPLE), dots(c1Orange, ORANGE), dots(c1Grey, GREY), dots(c1GreenOpen, GREEN, true), dots(c1Green, GREEN), dots(c1BlueOpen, BLUE, true), dots(c1Blue, BLUE)],
	c1Line, abundanceGrid, [12.7, 73.3, 112.7, 155], abundanceLabels, 16.5);
panel({ left: 464, right: 704.7, top: 731, bottom: 857.3, xMin: 282, xMax: 1004, yMin: -12, yMax: 216.6, reverse: true },
	[dots(c2PurpleOpen, PURPLE, true), dots(c2Purple, PURPLE), dots(c2Orange, ORANGE), dots(c2Grey, GREY), dots(c2GreyOpen, GREY, true), dots(c2BlueOpen, BLUE, true), dots(c2Blue, BLUE), dots(c2GreenOpen, GREEN, true), dots(c2Green, GREEN)],
	c2Line, abundanceGrid, [2.4, 44.6, 91.7, 138.8], abundanceLabels, 16.5);
panel({ left: 464, right: 704.7, top: 861.7, bottom: 967.3, xMin: 282, xMax: 1004, yMin: -3.3, yMax: 44.4 },
	[dots(c3GreyOpen, GREY, true), dots(c3Blue, BLUE), dots(c3Red, RED)],
	c3Line, phasingGrid, [4.2, 15.5, 27.8, 38.4], phasingLabels, 16);
panel({ left: 464, right: 704.7, top: 970.7, bottom: 1070, xMin: 282, xMax: 1004, yMin: -3, yMax: 41.8, reverse: true },
	[dots(c4GreyOpen, GREY, true), dots(c4BlueOpen, BLUE, true), dots(c4Blue, BLUE), dots(c4Red, RED)],
	c4Line, phasingGrid, [2.7, 14.8, 25, 37], phasingLabels, 16);

// panel (d) aligned sequences
const seqText = {
	id: 'seqText',
	afterDatasetsDraw(chart) {
		const c = chart.ctx, x = chart.scales.x, y = chart.scales.y;
		c.save();
		c.font = '14.5px ' + FONT;
		c.textAlign = 'center';
		c.textBaseline = 'middle';
		c.fillStyle = '#111';
		seqLetters.forEach((s, r) => {
			s.split('').forEach((ch, i) => c.fillText(ch, x.getPixelForValue(i + 1), y.getPixelForValue(r) + 0.5));
		});
		c.restore();
	}
};

new Chart(addCanvas(0, 875, 380, 118), {
	type: 'bar',
	data: {
		labels: seqNames,
		datasets: [
			{ data: identicalEnd.map(e => [0.5, e + 0.5]), backgroundColor: '#5a5ff0', grouped: false, barPercentage: 1, categoryPercentage: 1 },
			{ data: partialEnd.map(e => e === null ? null : [e - 0.5, e + 0.5]), backgroundColor: '#9d9ff3', grouped: false, barPercentage: 1, categoryPercentage: 1 }
		]
	},
	options: {
		indexAxis: 'y',
		responsive: false,
		layout: { autoPadding: false, padding: { left: 24, right: 4.6, bottom: 9 } },
		scales: {
			x: {
				position: 'top', min: 0.5, max: 22.5,
				border: { display: false },
				grid: { drawOnChartArea: false, tickLength: 4, color: '#333', lineWidth: 1 },
				afterBuildTicks: s => { s.ticks = rulerTicks.map(v => ({ value: v })); },
				afterFit: s => { s.height = 24.3; },
				ticks: { autoSkip: false, maxRotation: 0, padding: 0, font: { size: 14.5 }, callback: v => v % 10 === 0 ? v : '' }
			},
			y: {
				border: { display: false },
				grid: { display: false, drawTicks: false },
				afterFit: s => { s.width = 112; },
				ticks: { autoSkip: false, crossAlign: 'far', padding: 0, font: { size: 14.4 }, color: '#111' }
			}
		}
	},
	plugins: [seqText]
});

// consensus logo
const logoText = {
	id: 'logoText',
	afterDatasetsDraw(chart) {
		const c = chart.ctx, x = chart.scales.x, y = chart.scales.y;
		const base = y.getPixelForValue(22);
		logoLetters.forEach((ch, i) => {
			const h = logoHeights[i];
			c.save();
			if (h < 22) {
				c.font = '7px ' + FONT;
				c.fillStyle = '#ccc';
				c.textAlign = 'center';
				c.fillText(ch, x.getPixelForValue(i), y.getPixelForValue(2));
			} else {
				c.translate(x.getPixelForValue(i), base);
				c.scale(1.02, (base - y.getPixelForValue(h)) / 10);
				c.font = '14px ' + FONT;
				c.fillStyle = '#5d60e8';
				c.textAlign = 'center';
				c.fillText(ch, 0, 0);
			}
			c.restore();
		});
	}
};

new Chart(addCanvas(0, 980, 380, 75), {
	type: 'bar',
	data: {
		labels: consensusLetters,
		datasets: [{ data: logoHeights, backgroundColor: '#000', barPercentage: 1, categoryPercentage: 1 }]
	},
	options: {
		responsive: false,
		layout: { autoPadding: false, padding: { left: 136, right: 4.6, top: 6.7 } },
		scales: {
			x: {
				grid: { display: false, drawTicks: false }, border: { display: false },
				afterFit: s => { s.height = 75 - 56; },
				ticks: { autoSkip: false, maxRotation: 0, padding: 1, font: { size: 14.5 }, color: '#111' }
			},
			y: { display: false, min: 0, max: 100 }
		}
	},
	plugins: [logoText]
});
</script>
</body>
</html>
